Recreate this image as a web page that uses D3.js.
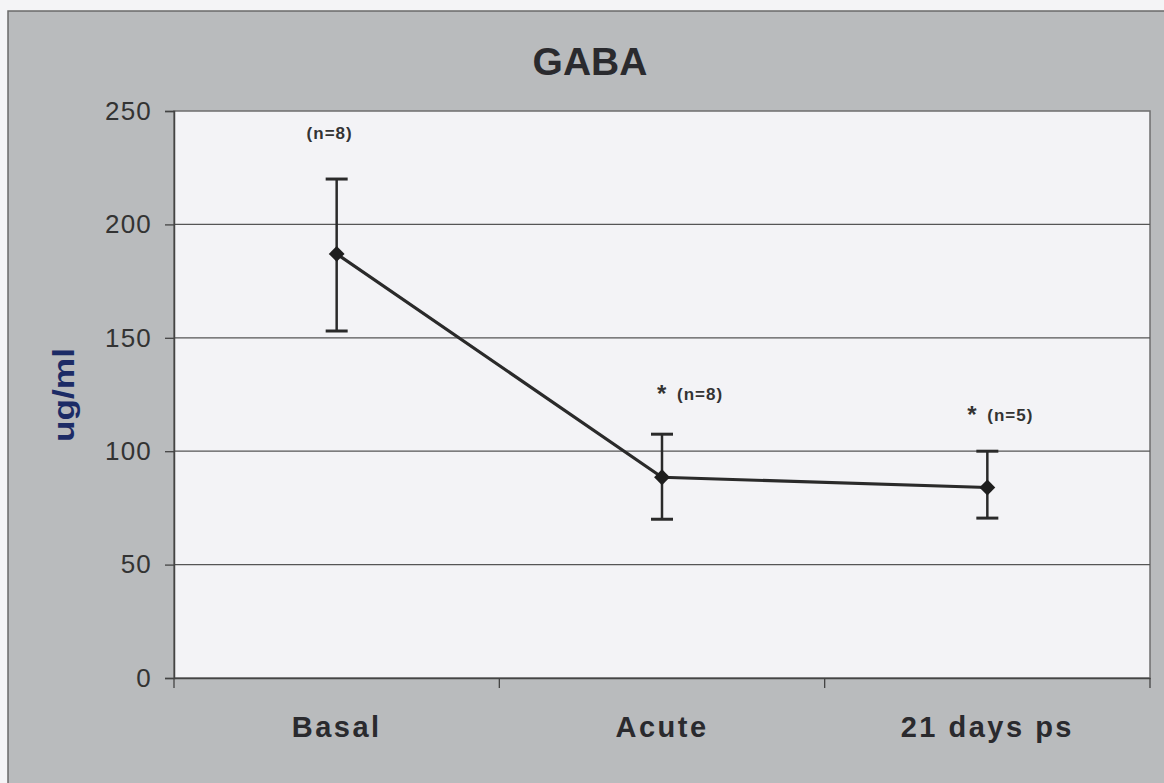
<!DOCTYPE html>
<html><head><meta charset="utf-8">
<script src="https://cdn.jsdelivr.net/npm/d3@7"></script>
<style>body{margin:0;background:#f4f4f6;}svg{display:block;}</style>
</head><body>
<svg id="c" width="1164" height="783"></svg>
<script>
const categories = ["Basal", "Acute", "21 days ps"];
const means = [187, 88.5, 84];
const upper = [220, 107.5, 100];
const lower = [153, 70, 70.5];
const nLabels = ["(n=8)", "(n=8)", "(n=5)"];
const stars = [false, true, true];
const yTicks = [0, 50, 100, 150, 200, 250];

const svg = d3.select("#c");
const W = 1164, H = 783;
const m = {left: 174, right: 1150, top: 111, bottom: 678};
const FONT = "Liberation Sans, Arial, sans-serif";

// background panel
svg.append("rect").attr("x", 8).attr("y", 11).attr("width", W - 6).attr("height", H)
  .attr("fill", "#b9bbbd").attr("stroke", "#6a6a6a").attr("stroke-width", 1.5);

const x = d3.scaleBand().domain(categories).range([m.left, m.right]).padding(0);
const y = d3.scaleLinear().domain([0, 250]).range([m.bottom, m.top]);

// plot area
svg.append("rect").attr("x", m.left).attr("y", m.top)
  .attr("width", m.right - m.left).attr("height", m.bottom - m.top)
  .attr("fill", "#f3f3f6").attr("stroke", "#6e6e6e").attr("stroke-width", 1.5);

// gridlines
svg.append("g").selectAll("line").data(yTicks.filter(d => d > 0 && d < 250)).join("line")
  .attr("x1", m.left).attr("x2", m.right)
  .attr("y1", d => y(d)).attr("y2", d => y(d))
  .attr("stroke", "#555").attr("stroke-width", 1.3);

// y axis
const yAxis = svg.append("g").attr("transform", `translate(${m.left},0)`)
  .call(d3.axisLeft(y).tickValues(yTicks).tickSize(9).tickPadding(13));
yAxis.select(".domain").attr("stroke", "#444").attr("stroke-width", 1.5);
yAxis.selectAll(".tick line").attr("stroke", "#444").attr("stroke-width", 1.3);
yAxis.selectAll("text").attr("font-family", FONT)
  .attr("font-size", 26).attr("letter-spacing", 1.2).attr("fill", "#333");

// x axis
const xAxis = svg.append("g").attr("transform", `translate(0,${m.bottom})`)
  .call(d3.axisBottom(x).tickSize(0).tickPadding(0));
xAxis.select(".domain").attr("stroke", "#444").attr("stroke-width", 1.5);
xAxis.selectAll("text").attr("font-family", FONT).attr("dy", null).attr("y", 59)
  .attr("font-size", 29).attr("font-weight", "bold").attr("letter-spacing", 2.5).attr("fill", "#2a2a2e");
// category boundary ticks
const bounds = categories.map(c => x(c)).concat([x(categories[categories.length - 1]) + x.bandwidth()]);
svg.append("g").selectAll("line").data(bounds).join("line")
  .attr("x1", d => d).attr("x2", d => d).attr("y1", m.bottom).attr("y2", m.bottom + 10)
  .attr("stroke", "#444").attr("stroke-width", 1.3);

const cx = c => x(c) + x.bandwidth() / 2;

// error bars
const eb = svg.append("g").attr("stroke", "#2a2a2a").attr("stroke-width", 2.5);
categories.forEach((c, i) => {
  eb.append("line").attr("x1", cx(c)).attr("x2", cx(c)).attr("y1", y(upper[i])).attr("y2", y(lower[i]));
  [upper[i], lower[i]].forEach(v => {
    eb.append("line").attr("x1", cx(c) - 11).attr("x2", cx(c) + 11).attr("y1", y(v)).attr("y2", y(v)).attr("stroke-width", 3);
  });
});

// line
const line = d3.line().x((d, i) => cx(categories[i])).y(d => y(d));
svg.append("path").datum(means).attr("d", line).attr("fill", "none")
  .attr("stroke", "#2a2a2a").attr("stroke-width", 3.2);

// markers
svg.append("g").selectAll("path").data(means).join("path")
  .attr("transform", (d, i) => `translate(${cx(categories[i])},${y(d)})`)
  .attr("d", d3.symbol(d3.symbolDiamond2, 160)())
  .attr("fill", "#1e1e1e");

// annotations
const ann = svg.append("g").attr("font-family", FONT)
  .attr("font-weight", "bold").attr("fill", "#333");
const annDy = [-40, -34, -30];
const annDx = [-7, -5, -20];
categories.forEach((c, i) => {
  const ax = cx(c) + annDx[i], ay = y(upper[i]) + annDy[i];
  if (stars[i]) {
    ann.append("text").attr("x", ax).attr("y", ay + 2).attr("font-size", 24).text("*");
    ann.append("text").attr("x", ax + 20).attr("y", ay).attr("font-size", 17)
      .attr("letter-spacing", 1).text(nLabels[i]);
  } else {
    ann.append("text").attr("x", ax).attr("y", ay).attr("text-anchor", "middle")
      .attr("font-size", 17).attr("letter-spacing", 1).text(nLabels[i]);
  }
});

// title
svg.append("text").attr("x", 590).attr("y", 75).attr("text-anchor", "middle")
  .attr("font-family", FONT).attr("font-weight", "bold")
  .attr("font-size", 39).attr("fill", "#2a2a2e").text("GABA");

// y label
svg.append("text").attr("transform", "translate(74,395) rotate(-90)").attr("text-anchor", "middle")
  .attr("font-family", FONT).attr("font-weight", "bold")
  .attr("font-size", 29).attr("textLength", 94).attr("lengthAdjust", "spacingAndGlyphs")
  .attr("fill", "#1c2b66").text("ug/ml");
</script>
</body></html>
